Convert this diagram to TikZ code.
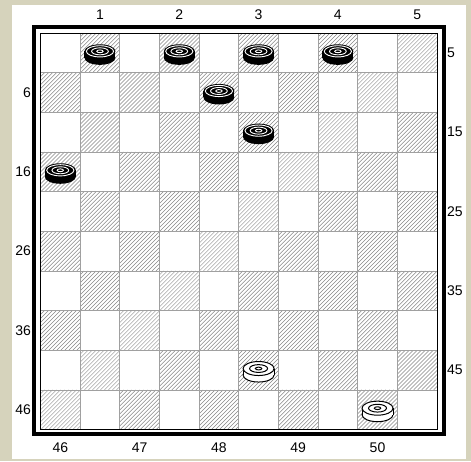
\documentclass[tikz,border=0pt]{standalone}
\usepackage{fontspec}
\setmainfont{Liberation Sans}
\definecolor{bgc}{RGB}{214,211,188}
\definecolor{hatchc}{RGB}{135,135,135}
\definecolor{gridc}{RGB}{160,160,160}
\tikzset{
  lab/.style={font=\fontsize{14}{16}\selectfont, inner sep=0pt},
  hatchline/.style={draw=hatchc, line width=0.5pt},
  gridline/.style={draw=gridc, line width=0.7pt},
  blackman/.pic={
    \fill[black] (0,5) ellipse (15.5 and 7);
    \fill[black] (-15.5,-1.5) rectangle (15.5,5);
    \fill[black] (0,-1.5) ellipse (15.5 and 7);
    \draw[white, line width=0.9pt] (0,-1.5) ellipse (13.6 and 5.6);
    \draw[white, line width=0.9pt] (0,-1.5) ellipse (8.4 and 3.5);
    \draw[white, line width=0.9pt] (0,-1.5) ellipse (3.2 and 1.4);
  },
  whiteman/.pic={
    \filldraw[fill=white, draw=black, line width=1pt] (0,5) ellipse (15.5 and 7);
    \fill[white] (-15.5,-1.5) rectangle (15.5,5);
    \draw[black, line width=1pt] (-15.5,-1.5) -- (-15.5,5) (15.5,-1.5) -- (15.5,5);
    \filldraw[fill=white, draw=black, line width=1pt] (0,-1.5) ellipse (15.5 and 7);
    \draw[black, line width=1pt] (0,-1.5) ellipse (9 and 3.9);
    \draw[black, line width=1pt] (0,-1.5) ellipse (3.2 and 1.4);
  }
}
\begin{document}
\begin{tikzpicture}[x=1pt,y=-1pt]
\useasboundingbox (0,0) rectangle (471,461);
\fill[bgc] (0,0) rectangle (471,461);
\fill[white] (12,5) rectangle (466,459);
% dark squares
\foreach \n in {1,...,50}{
  \pgfmathtruncatemacro{\r}{(\n-0.5)/5}
  \pgfmathtruncatemacro{\c}{2*mod(\n-1,5)+1-mod(\r,2)}
  \coordinate (sq\n) at ({40.5+(\c+0.5)*39.65},{33+(\r+0.5)*39.65});
  \begin{scope}
    \clip ({40.5+\c*39.65},{33+\r*39.65}) rectangle ++(39.65,39.65);
    \foreach \t in {0,4,...,80}
      \draw[hatchline] ({40.5+\c*39.65+\t-39.65},{33+(\r+1)*39.65}) -- ++(39.65,-39.65);
  \end{scope}
  \draw[gridline] ({40.5+\c*39.65},{33+\r*39.65}) rectangle ++(39.65,39.65);
}
% borders
\draw[line width=1pt] (40.5,33) rectangle (437,429.5);
\draw[line width=4pt] (34,27) rectangle (443.7,433.5);
% labels
\foreach \n/\t in {1/1,2/2,3/3,4/4,5/5}
  \path (sq\n) ++(0,-37.8) node[lab] (top\t) {\t};
\foreach \n in {46,...,50}
  \path (sq\n) ++(0,38.3) node[lab] (bot\n) {\n};
\foreach \n in {6,16,26,36,46}
  \path (sq\n) ++(-29.3,0) node[lab, anchor=east] (left\n) {\n};
\foreach \n in {5,15,25,35,45}
  \path (sq\n) ++(29.8,0) node[lab, anchor=west] (right\n) {\n};
% pieces
\foreach \n in {1,2,3,4,8,13,16}
  \pic at (sq\n) {blackman};
\foreach \n in {43,50}
  \pic at (sq\n) {whiteman};
\end{tikzpicture}
\end{document}
